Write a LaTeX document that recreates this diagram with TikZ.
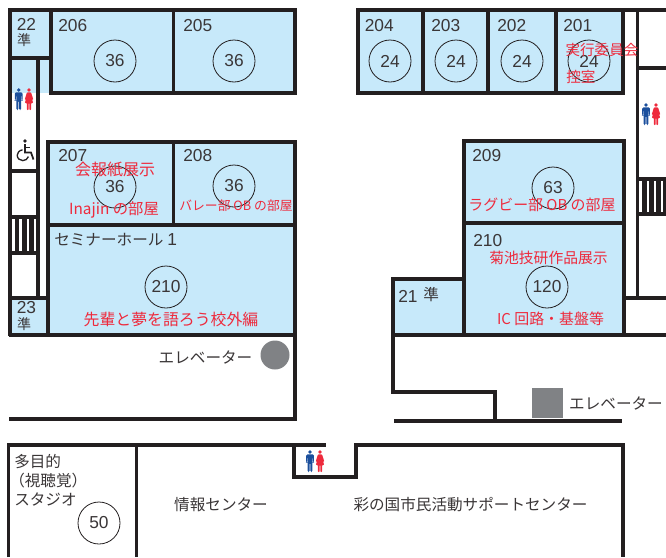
\documentclass[tikz,border=0pt]{standalone}
\usepackage{fontspec}
\setmainfont{Liberation Sans}
\newfontfamily\jp{Noto Sans CJK JP}
\definecolor{wallc}{HTML}{231F20}
\definecolor{roomc}{HTML}{C7E9FA}
\definecolor{redc}{HTML}{EE2A3C}
\definecolor{bluec}{HTML}{1B4F9C}
\definecolor{greyc}{HTML}{808285}
\definecolor{textc}{HTML}{3A3637}
\tikzset{
  wall/.style={draw=wallc,line width=2.8pt,line join=miter},
  bar/.style={draw=wallc,line width=3.4pt},
  seat/.style={circle,draw=wallc,line width=0.6pt,minimum size=31.5pt,inner sep=0pt,text=textc,font=\fontsize{13}{13}\selectfont},
  num/.style={anchor=west,inner sep=0pt,text=textc,font=\fontsize{13}{13}\selectfont},
  lab/.style={inner sep=0pt,text=textc,font=\jp\fontsize{11.7}{11.7}\selectfont},
  small/.style={inner sep=0pt,text=textc,font=\jp\fontsize{10.5}{10.5}\selectfont},
  note/.style={inner sep=0pt,text=redc,font=\jp\fontsize{#1}{#1}\selectfont},
  manicon/.pic={
    \fill[bluec] (0,-9) circle (1.9);
    \fill[bluec,rounded corners=1pt] (-3.9,-6.7) -- (3.9,-6.7) -- (3.9,1.5) -- (2.9,1.5) -- (2.9,-4) -- (2.4,-4) -- (2.4,11) -- (0.3,11) -- (0.3,1.5) -- (-0.3,1.5) -- (-0.3,11) -- (-2.4,11) -- (-2.4,-4) -- (-2.9,-4) -- (-2.9,1.5) -- (-3.9,1.5) -- cycle;
  },
  womanicon/.pic={
    \fill[redc] (0,-9) circle (1.9);
    \fill[redc,rounded corners=0.6pt] (-2,-6.7) -- (2,-6.7) -- (4.3,0.5) -- (3.4,0.8) -- (2.2,-2.5) -- (4.2,4) -- (2.1,4) -- (2.1,11) -- (0.4,11) -- (0.4,4) -- (-0.4,4) -- (-0.4,11) -- (-2.1,11) -- (-2.1,4) -- (-4.2,4) -- (-2.2,-2.5) -- (-3.4,0.8) -- (-4.3,0.5) -- cycle;
  }
}
\begin{document}
\begin{tikzpicture}[x=0.75pt,y=-0.75pt]
\useasboundingbox (0,0) rectangle (666,557);
% rooms
\fill[roomc] (10,10) rectangle (295,93);
\fill[roomc] (48,142) rectangle (295,335);
\fill[roomc] (10,298) rectangle (48,335);
\fill[roomc] (358,10) rectangle (623,93);
\fill[roomc] (464,141) rectangle (624,335);
\fill[roomc] (393,279) rectangle (464,335);
% left block walls
\draw[wall] (10,336) -- (10,10) -- (295,10) -- (295,93) -- (51,93) -- (51,10);
\draw[wall] (173.5,10) -- (173.5,93);
\draw[wall] (10,58) -- (51,58);
\draw[wall] (38,58) -- (38,298);
\draw[wall] (10,171) -- (38,171);
\draw[wall] (10,298) -- (48,298);
\draw[wall] (48,335) -- (48,142) -- (295,142) -- (295,419) -- (9,419);
\draw[wall] (8.6,335) -- (295,335);
\draw[wall] (173.5,142) -- (173.5,225);
\draw[wall] (48,225) -- (295,225);
% left stairs
\draw[wall] (10,217) -- (38,217);
\draw[wall] (10,253) -- (38,253);
\draw[bar] (17,217) -- (17,253);
\draw[bar] (24.5,217) -- (24.5,253);
\draw[bar] (31.5,217) -- (31.5,253);
% right block walls
\draw[wall] (358,10) rectangle (623,93);
\draw[wall] (423,10) -- (423,93);
\draw[wall] (488,10) -- (488,93);
\draw[wall] (556,10) -- (556,93);
\draw[wall] (623,10) -- (666,10);
\draw[wall] (637.5,10) -- (637.5,298);
\draw[wall] (637.5,68) -- (666,68);
\draw[wall] (637.5,179) -- (666,179);
\draw[wall] (637.5,214) -- (666,214);
\draw[bar] (644.5,179) -- (644.5,214);
\draw[bar] (651.5,179) -- (651.5,214);
\draw[bar] (658.5,179) -- (658.5,214);
\draw[bar] (665,179) -- (665,214);
\draw[wall] (624,298) -- (666,298);
\draw[wall] (464,335) -- (464,141) -- (624,141) -- (624,335);
\draw[wall] (464,223) -- (624,223);
\draw[wall] (393,335) -- (666,335);
\draw[wall] (495,421) -- (495,392) -- (393,392) -- (393,279) -- (464,279);
\draw[wall] (394,421) -- (622,421);
% bottom block walls
\draw[wall] (8.5,557) -- (8.5,445) -- (326,445);
\draw[wall] (136.5,445) -- (136.5,557);
\draw[wall] (294,445) -- (294,477) -- (356,477) -- (356,445) -- (623,445) -- (623,557);
% elevators
\fill[greyc] (275,355) circle (14.5);
\fill[greyc] (532,388) rectangle (563,418);
% toilets
\pic at (18.7,99) {manicon};
\pic at (29,99) {womanicon};
\pic at (646,114) {manicon};
\pic at (656,114) {womanicon};
\pic at (310,461) {manicon};
\pic at (320,461) {womanicon};
% wheelchair
\fill[wallc] (25,141) circle (1.8);
\draw[wallc,line width=1.3pt] (25,144) -- (25,152.5) -- (31,152.5) -- (33.5,159.5);
\draw[wallc,line width=1pt] (25,147.5) -- (30,147.5);
\draw[wallc,line width=1pt] (22.5,149.8) .. controls (19,150.5) and (17.2,153) .. (17.2,155.2) .. controls (17.2,158.5) and (20,160.6) .. (22.8,160.6) .. controls (25.5,160.6) and (27.6,159) .. (28.4,156.6);
% seat circles
\node[seat] (c206) at (115,61) {36};
\node[seat] (c205) at (234,61) {36};
\node[seat] (c207) at (115,187) {36};
\node[seat] (c208) at (234,186) {36};
\node[seat] (c210a) at (166,287) {210};
\node[seat] (c204) at (390,61) {24};
\node[seat] (c203) at (456,61) {24};
\node[seat] (c202) at (522,61) {24};
\node[seat] (c201) at (589,61) {24};
\node[seat] (c209) at (553,188) {63};
\node[seat] (c210b) at (547,287) {120};
\node[seat] (c50) at (99,523) {50};
% room numbers
\node[num] (n22) at (16.5,24) {22};
\node[small] (j22) at (24,40) {準};
\node[num] (n206) at (58,26) {206};
\node[num] (n205) at (183,26) {205};
\node[num] (n207) at (58,156) {207};
\node[num] (n208) at (183,156) {208};
\node[num] (n23) at (16.5,308) {23};
\node[small] (j23) at (24,324) {準};
\node[num] (n204) at (364.5,26) {204};
\node[num] (n203) at (431,26) {203};
\node[num] (n202) at (497,26) {202};
\node[num] (n201) at (563,26) {201};
\node[num] (n209) at (472,156) {209};
\node[num] (n210) at (473,241) {210};
\node[num] (n21) at (398,296) {21};
\node[lab,anchor=west] (j21) at (423,295) {準};
% labels
\node[lab,anchor=west] (hall) at (54,240) {セミナーホール};
\node[num] (hall1) at (167,240) {1};
\node[lab] (ev1) at (205.5,357) {エレベーター};
\node[lab] (ev2) at (616,403) {エレベーター};
\node[lab,anchor=west] (st1) at (14,462) {多目的};
\node[lab,anchor=west] (st2) at (9,481) {（視聴覚）};
\node[lab,anchor=west] (st3) at (14,499) {スタジオ};
\node[lab] (info) at (221,505) {情報センター};
\node[lab] (sai) at (470.5,505) {彩の国市民活動サポートセンター};
% notes
\node[note=12] (r207a) at (115,170) {会報紙展示};
\node[note=11.5] (r207b) at (114,210) {Inajin の部屋};
\node[note=9.6] (r208) at (236,206) {バレー部 OB の部屋};
\node[note=11.9] (r210) at (171,319) {先輩と夢を語ろう校外編};
\node[note=10.9] (r201a) at (602,50) {実行委員会};
\node[note=10.9,anchor=west] (r201b) at (566,77) {控室};
\node[note=11.2] (r209) at (542,205) {ラグビー部 OB の部屋};
\node[note=11.1] (r210a) at (548.5,258) {菊池技研作品展示};
\node[note=11.2] (r210b) at (550.5,319) {IC 回路・基盤等};
\end{tikzpicture}
\end{document}
